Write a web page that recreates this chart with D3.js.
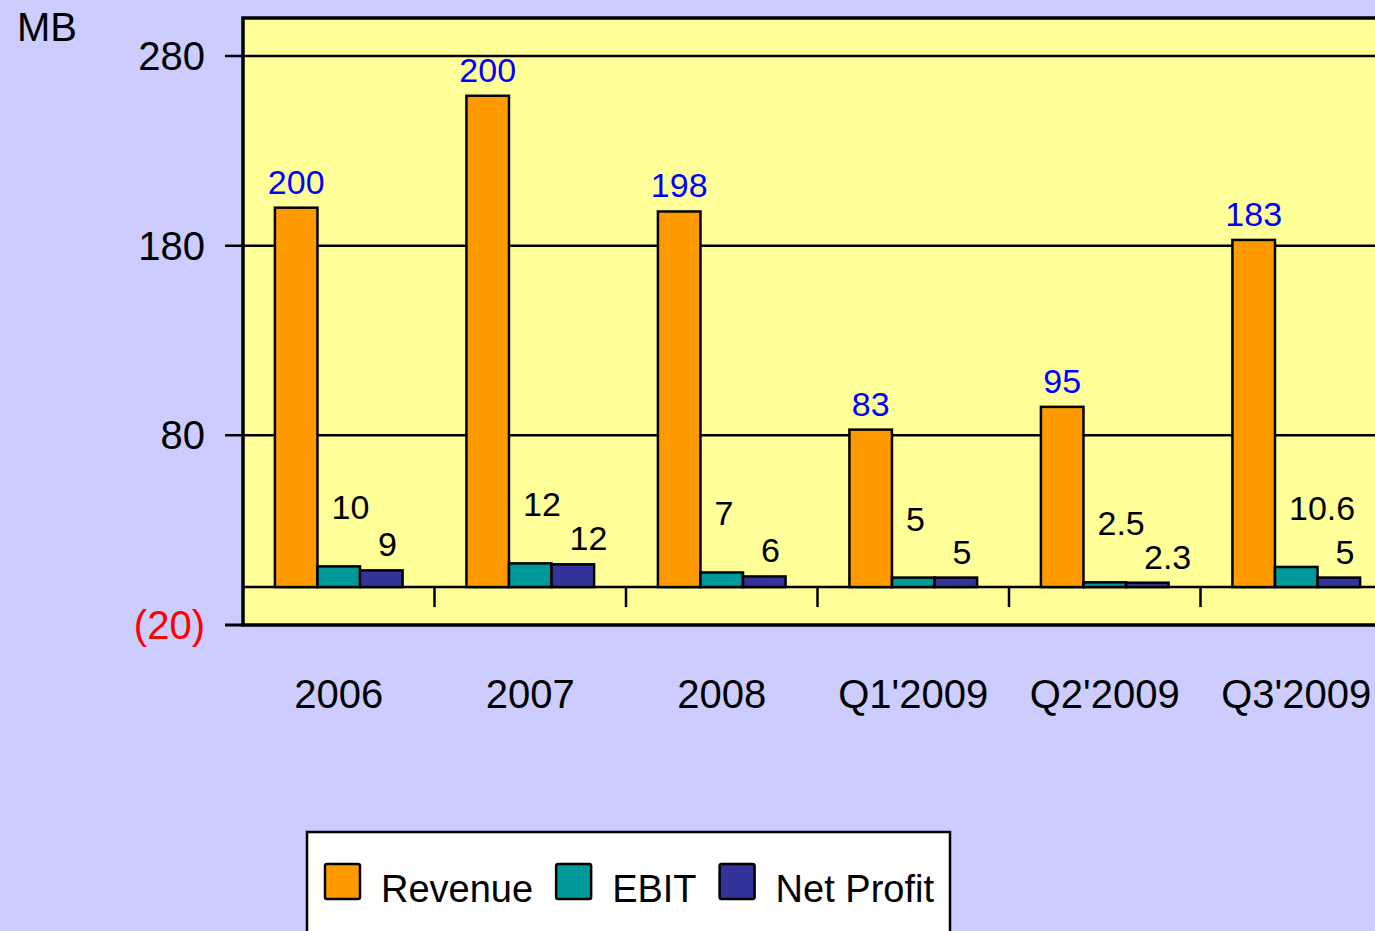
<!DOCTYPE html>
<html>
<head>
<meta charset="utf-8">
<script src="https://cdn.jsdelivr.net/npm/d3@7"></script>
<style>
  html, body { margin: 0; padding: 0; background: #CCCCFF; overflow: hidden; }
  svg { display: block; font-family: "Liberation Sans", Arial, sans-serif; }
</style>
</head>
<body>
<div id="chart"></div>
<script>
// Chart data
const categories = ["2006", "2007", "2008", "Q1'2009", "Q2'2009", "Q3'2009"];
const revenue = [200, 259, 198, 83, 95, 183];
const revenueLabels = ["200", "200", "198", "83", "95", "183"];
const ebit = [10.9, 12.5, 7.7, 5, 2.5, 10.6];
const ebitLabels = ["10", "12", "7", "5", "2.5", "10.6"];
const netProfit = [8.8, 12, 5.6, 5, 2.3, 5];
const netProfitLabels = ["9", "12", "6", "5", "2.3", "5"];
const seriesNames = ["Revenue", "EBIT", "Net Profit"];
const yTicks = [280, 180, 80, -20];

// Styling
const colors = {"Revenue": "#FF9900", "EBIT": "#009999", "Net Profit": "#333399"};
const W = 1375, H = 931;
const plot = {left: 243, right: 1392, top: 18, bottom: 625};

const svg = d3.select("#chart")
    .append("svg")
    .attr("width", W)
    .attr("height", H);

svg.append("rect")
    .attr("width", W)
    .attr("height", H)
    .attr("fill", "#CCCCFF");

// Scales
const x = d3.scaleBand()
    .domain(categories)
    .range([plot.left, plot.right])
    .padding(0);

const xInner = d3.scaleBand()
    .domain(seriesNames)
    .range([0, x.bandwidth()])
    .paddingInner(0)
    .paddingOuter(0.75);

const y = d3.scaleLinear()
    .domain([-20, 300])
    .range([plot.bottom, plot.top]);

// Plot area
svg.append("rect")
    .attr("x", plot.left)
    .attr("y", plot.top)
    .attr("width", plot.right - plot.left)
    .attr("height", plot.bottom - plot.top)
    .attr("fill", "#FFFF99");

// Gridlines + left tick marks
svg.selectAll(".grid")
    .data(yTicks.filter(d => d > -20))
    .join("line")
    .attr("class", "grid")
    .attr("x1", plot.left - 18)
    .attr("x2", plot.right)
    .attr("y1", d => y(d))
    .attr("y2", d => y(d))
    .attr("stroke", "#000")
    .attr("stroke-width", 2.5);

// Zero line
svg.append("line")
    .attr("x1", plot.left)
    .attr("x2", plot.right)
    .attr("y1", y(0))
    .attr("y2", y(0))
    .attr("stroke", "#000")
    .attr("stroke-width", 2.5);

// Category tick marks below zero line
svg.selectAll(".xtick")
    .data(categories.slice(1))
    .join("line")
    .attr("class", "xtick")
    .attr("x1", d => x(d))
    .attr("x2", d => x(d))
    .attr("y1", y(0))
    .attr("y2", y(0) + 20)
    .attr("stroke", "#000")
    .attr("stroke-width", 2.5);

// Plot border (left, top, bottom)
svg.append("path")
    .attr("d", `M${plot.right},${plot.top}H${plot.left}V${plot.bottom}H${plot.right}`)
    .attr("fill", "none")
    .attr("stroke", "#000")
    .attr("stroke-width", 3.5);

svg.append("line")
    .attr("x1", plot.left - 18)
    .attr("x2", plot.left)
    .attr("y1", y(-20))
    .attr("y2", y(-20))
    .attr("stroke", "#000")
    .attr("stroke-width", 3);

// Y tick labels
svg.selectAll(".ylabel")
    .data(yTicks)
    .join("text")
    .attr("class", "ylabel")
    .attr("x", 205)
    .attr("y", d => y(d))
    .attr("dy", "0.35em")
    .attr("text-anchor", "end")
    .attr("font-size", 40)
    .attr("fill", d => d < 0 ? "#FF0000" : "#000")
    .text(d => d < 0 ? `(${-d})` : d);

svg.append("text")
    .attr("x", 17)
    .attr("y", 41)
    .attr("font-size", 40)
    .attr("fill", "#000")
    .text("MB");

// Category labels
svg.selectAll(".xlabel")
    .data(categories)
    .join("text")
    .attr("class", "xlabel")
    .attr("x", d => x(d) + x.bandwidth() / 2)
    .attr("y", 708)
    .attr("text-anchor", "middle")
    .attr("font-size", 40)
    .attr("fill", "#000")
    .text(d => d);

// Bars (revenue labels centred above; EBIT / net profit labels start a bit right of the bar edge)
const series = [
    {name: "Revenue", values: revenue, labels: revenueLabels, anchor: "middle", dx: 0.5, dy: -14, color: "#0000FF"},
    {name: "EBIT", values: ebit, labels: ebitLabels, anchor: "start", dx: 14, dy: -47, color: "#000"},
    {name: "Net Profit", values: netProfit, labels: netProfitLabels, anchor: "start", dx: 18, dy: -14, color: "#000"}
];

series.forEach(s => {
    const rows = categories.map((c, i) => ({cat: c, value: s.values[i], label: s.labels[i]}));
    const key = s.name.replace(" ", "");
    const bw = xInner.bandwidth();

    svg.selectAll(`.bar-${key}`)
        .data(rows)
        .join("rect")
        .attr("class", `bar-${key}`)
        .attr("x", d => x(d.cat) + xInner(s.name))
        .attr("y", d => y(d.value))
        .attr("width", bw)
        .attr("height", d => y(0) - y(d.value))
        .attr("fill", colors[s.name])
        .attr("stroke", "#000")
        .attr("stroke-width", 2.5);

    svg.selectAll(`.lbl-${key}`)
        .data(rows)
        .join("text")
        .attr("class", `lbl-${key}`)
        .attr("x", d => x(d.cat) + xInner(s.name) + (s.anchor === "middle" ? bw * s.dx : s.dx))
        .attr("y", d => y(d.value) + s.dy)
        .attr("text-anchor", s.anchor)
        .attr("font-size", 34)
        .attr("fill", s.color)
        .text(d => d.label);
});

// Legend
const legend = svg.append("g");
legend.append("rect")
    .attr("x", 307)
    .attr("y", 832)
    .attr("width", 643)
    .attr("height", 140)
    .attr("fill", "#fff")
    .attr("stroke", "#000")
    .attr("stroke-width", 2.5);

let lx = 325;
seriesNames.forEach(name => {
    legend.append("rect")
        .attr("x", lx)
        .attr("y", 864)
        .attr("width", 35)
        .attr("height", 35)
        .attr("rx", 2)
        .attr("fill", colors[name])
        .attr("stroke", "#000")
        .attr("stroke-width", 2.5);
    const t = legend.append("text")
        .attr("x", lx + 56)
        .attr("y", 902)
        .attr("font-size", 38)
        .attr("fill", "#000")
        .text(name);
    lx += 56 + t.node().getComputedTextLength() + 23;
});
</script>
</body>
</html>
